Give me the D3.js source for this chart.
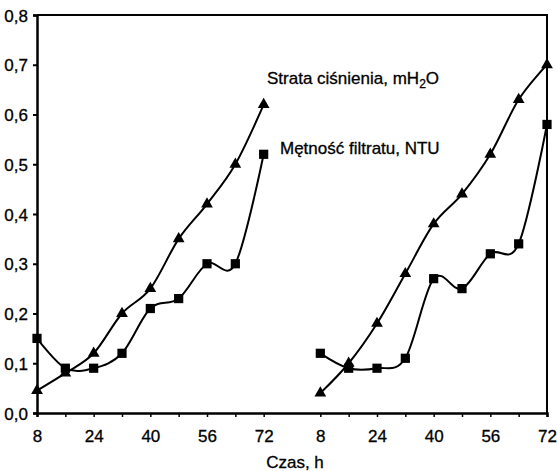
<!DOCTYPE html>
<html>
<head>
<meta charset="utf-8">
<script src="https://cdn.jsdelivr.net/npm/d3@7"></script>
<style>
  body { margin: 0; background: #fff; }
  text { font-family: "Liberation Sans", Arial, sans-serif; fill: #000; stroke: #000; stroke-width: 0.3px; }
</style>
</head>
<body>
<script>
// hours within each filter cycle
var hours = [8, 16, 24, 32, 40, 48, 56, 64, 72];
var tickHours = [8, 24, 40, 56, 72];
var yTicks = [0, 0.1, 0.2, 0.3, 0.4, 0.5, 0.6, 0.7, 0.8];

// cycle 1
var pressure1 = [0.045, 0.08, 0.12, 0.20, 0.25, 0.35, 0.42, 0.50, 0.62];
var turbidity1 = [0.15, 0.09, 0.09, 0.12, 0.21, 0.23, 0.30, 0.30, 0.52];
// cycle 2
var pressure2 = [0.04, 0.10, 0.18, 0.28, 0.38, 0.44, 0.52, 0.63, 0.70];
var turbidity2 = [0.12, 0.09, 0.09, 0.11, 0.27, 0.25, 0.32, 0.34, 0.58];

var pressureLabel = "Strata ciśnienia, mH";
var turbidityLabel = "Mętność filtratu, NTU";
var xTitle = "Czas, h";

var width = 557, height = 471;
var plotLeft = 37, plotRight = 547, plotTop = 15, plotBottom = 413;

var svg = d3.select("body").append("svg")
    .attr("width", width)
    .attr("height", height);

// two cycles side by side on one index scale, one empty slot between them
var x = d3.scaleLinear().domain([0, 18]).range([plotLeft, plotRight]);
var y = d3.scaleLinear().domain([0, 0.8]).range([plotBottom, plotTop]);

function idx(cycle, i){ return cycle * 10 + i; }

// frame: top and right
svg.append("path")
    .attr("d", "M" + plotLeft + "," + plotTop + "H" + plotRight + "V" + plotBottom)
    .attr("fill", "none").attr("stroke", "#000").attr("stroke-width", 2);

// y axis
var yAxis = svg.append("g")
    .attr("transform", "translate(" + plotLeft + ",0)")
    .call(d3.axisLeft(y).tickValues(yTicks).tickSize(4)
        .tickFormat(function(d){ return d3.format(".1f")(d).replace(".", ","); }));
yAxis.select(".domain").attr("stroke-width", 2.5);
yAxis.selectAll(".tick line").attr("stroke-width", 2);
yAxis.selectAll("text").attr("font-size", 17).attr("x", -9).attr("dy", "0.36em");

// x axis: ticks at every data slot
var xIdx = [];
[0, 1].forEach(function(c){ hours.forEach(function(h, i){ xIdx.push(idx(c, i)); }); });
var xAxis = svg.append("g")
    .attr("transform", "translate(0," + plotBottom + ")")
    .call(d3.axisBottom(x).tickValues(xIdx).tickSize(4)
        .tickFormat(function(d){
            var h = hours[d % 10];
            return tickHours.indexOf(h) >= 0 ? h : "";
        }));
xAxis.select(".domain").attr("stroke-width", 2.5);
xAxis.selectAll(".tick line").attr("stroke-width", 1.5);
xAxis.selectAll("text").attr("font-size", 17).attr("y", 17);

svg.append("text")
    .attr("x", 295).attr("y", 468)
    .attr("text-anchor", "middle")
    .attr("font-size", 17)
    .text(xTitle);

var line = d3.line()
    .x(function(d){ return x(d.i); })
    .y(function(d){ return y(d.v); })
    .curve(d3.curveCardinal.tension(0));

function series(cycle, vals){
    return vals.map(function(v, i){ return {i: idx(cycle, i), v: v}; });
}

var all = [
    {data: series(0, pressure1), shape: d3.symbolTriangle},
    {data: series(0, turbidity1), shape: d3.symbolSquare},
    {data: series(1, pressure2), shape: d3.symbolTriangle},
    {data: series(1, turbidity2), shape: d3.symbolSquare}
];

all.forEach(function(s){
    svg.append("path")
        .attr("d", line(s.data))
        .attr("fill", "none")
        .attr("stroke", "#000")
        .attr("stroke-width", 2);
    svg.selectAll(null)
        .data(s.data)
        .enter()
        .append("path")
        .attr("d", d3.symbol().type(s.shape).size(s.shape === d3.symbolSquare ? 85 : 60))
        .attr("transform", function(d){ return "translate(" + x(d.i) + "," + y(d.v) + ")"; })
        .attr("fill", "#000");
});

// annotations
var t1 = svg.append("text")
    .attr("x", 267).attr("y", 84)
    .attr("font-size", 17)
    .text(pressureLabel);
t1.append("tspan").attr("font-size", 12).attr("dy", 4).text("2");
t1.append("tspan").attr("dy", -4).text("O");

svg.append("text")
    .attr("x", 280).attr("y", 154)
    .attr("font-size", 17)
    .text(turbidityLabel);
</script>
</body>
</html>
